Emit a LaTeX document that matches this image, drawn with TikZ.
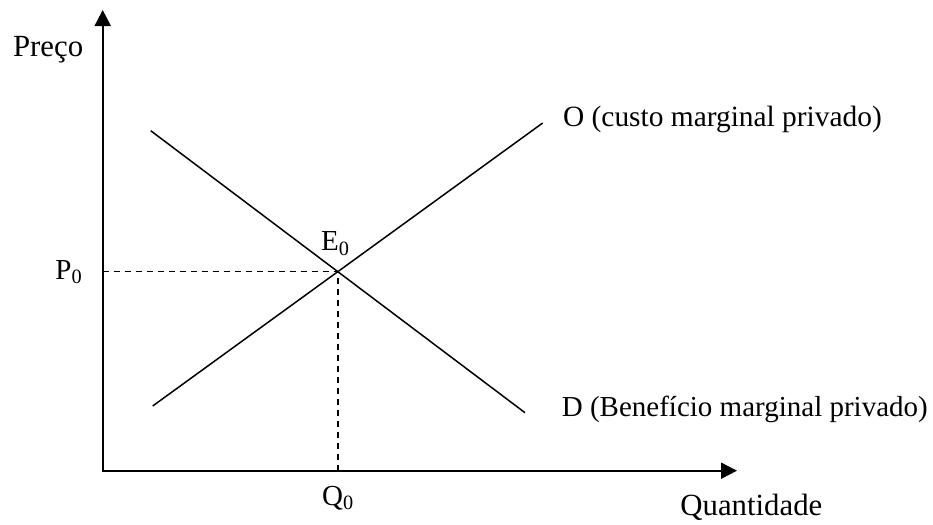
\documentclass[tikz,border=0pt]{standalone}
\usepackage{fontspec}
\setmainfont{Liberation Serif}
\usetikzlibrary{arrows.meta}

\begin{document}
\begin{tikzpicture}[x=0.5pt,y=-0.5pt,font=\fontsize{14.5}{17}\selectfont,
    axis/.style={line width=1pt,{Triangle[length=8pt,width=8pt]}-{Triangle[length=8pt,width=8pt]}},
    curve/.style={line width=0.75pt},
    guide/.style={line width=0.75pt,dash pattern=on 3pt off 2.5pt},
    bigtext/.style={font=\fontsize{15.4}{18}\selectfont}]
        \useasboundingbox (0,0) rectangle (933,525);

        % axes
        \coordinate (O) at (102.7,470.7);
        \coordinate (ytop) at (102.7,10);
        \coordinate (xend) at (737,470.7);
        \draw[axis] (ytop) -- (O) -- (xend);

        % curves
        \coordinate (Dstart) at (150.7,130.7);
        \coordinate (Dend) at (525,412.7);
        \coordinate (Sstart) at (152.7,406);
        \coordinate (Send) at (542.7,123);
        \draw[curve] (Dstart) -- (Dend);
        \draw[curve] (Sstart) -- (Send);

        % equilibrium
        \coordinate (E) at (338,271.5);
        \coordinate (Ey) at (102.7,271.5);
        \coordinate (Ex) at (338,470.7);
        \draw[guide] (Ey) -- (E) -- (Ex);

        % labels
        \node[bigtext, anchor=base west, inner sep=0pt] (preco) at (12.7,56.5) {Preço};
        \node[anchor=base west, inner sep=0pt] (P0) at (55,279) {P\textsubscript{0}};
        \node[anchor=base west, inner sep=0pt] (E0) at (320.7,250.7) {E\textsubscript{0}};
        \node[anchor=base west, inner sep=0pt] (Q0) at (321.7,505) {Q\textsubscript{0}};
        \node[bigtext, anchor=base west, inner sep=0pt] (quant) at (680,515) {Quantidade};
        \node[font=\fontsize{14.7}{17}\selectfont, anchor=base west, inner sep=0pt] (Olab) at (562.7,126) {O (custo marginal privado)};
        \node[anchor=base west, inner sep=0pt] (Dlab) at (561.5,416.7) {D (Benefício marginal privado)};
      \end{tikzpicture}
\end{document}
